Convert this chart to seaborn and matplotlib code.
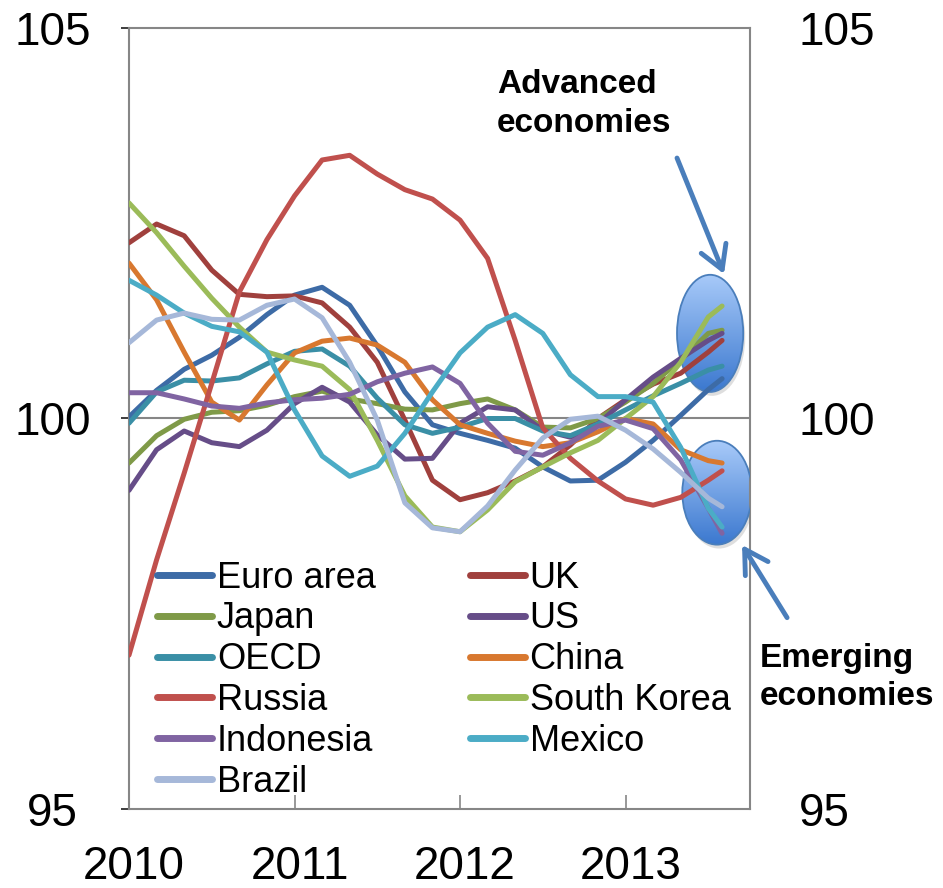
import numpy as np
import pandas as pd
import matplotlib
matplotlib.use("Agg")
import matplotlib.pyplot as plt
import seaborn as sns
from matplotlib.patches import Ellipse
from matplotlib.colors import LinearSegmentedColormap
import matplotlib.transforms as mtransforms

# ---------------- data ----------------
months = [0, 2, 4, 6, 8, 10, 12, 14, 16, 18, 20, 22, 24, 26, 28, 30, 32, 34, 36, 38, 40, 42, 43]  # months since Jan 2010

euro_area = [100.02, 100.36, 100.63, 100.81, 101.04, 101.33, 101.58, 101.68, 101.45, 100.93, 100.34, 99.92,
             99.81, 99.72, 99.62, 99.38, 99.20, 99.21, 99.44, 99.72, 100.04, 100.37, 100.51]
uk = [102.25, 102.49, 102.34, 101.90, 101.59, 101.56, 101.57, 101.48, 101.17, 100.72, 99.98, 99.21,
      98.96, 99.05, 99.20, 99.38, 99.66, 100.00, 100.24, 100.44, 100.58, 100.85, 101.00]
japan = [99.43, 99.78, 99.99, 100.08, 100.10, 100.17, 100.28, 100.35, 100.25, 100.19, 100.12, 100.11,
         100.19, 100.25, 100.11, 99.89, 99.88, 100.00, 100.21, 100.45, 100.75, 101.09, 101.13]
us = [99.08, 99.60, 99.84, 99.69, 99.64, 99.85, 100.19, 100.40, 100.21, 99.79, 99.48, 99.49,
      99.94, 100.15, 100.11, 99.85, 99.76, 99.93, 100.24, 100.53, 100.77, 101.00, 101.09]
oecd = [99.94, 100.34, 100.49, 100.48, 100.52, 100.70, 100.86, 100.89, 100.67, 100.26, 99.92, 99.81,
        99.89, 100.00, 100.00, 99.84, 99.78, 99.93, 100.11, 100.29, 100.45, 100.62, 100.67]
china = [101.99, 101.52, 100.85, 100.21, 99.98, 100.43, 100.84, 100.99, 101.03, 100.94, 100.72, 100.24,
         99.92, 99.81, 99.71, 99.64, 99.69, 99.83, 100.00, 99.93, 99.60, 99.46, 99.43]
russia = [96.97, 98.19, 99.30, 100.45, 101.62, 102.29, 102.85, 103.31, 103.37, 103.13, 102.93, 102.81,
          102.54, 102.05, 101.00, 99.88, 99.49, 99.20, 98.97, 98.89, 98.99, 99.21, 99.33]
south_korea = [102.76, 102.38, 101.95, 101.54, 101.17, 100.85, 100.75, 100.67, 100.37, 99.72, 99.01, 98.61,
               98.55, 98.83, 99.19, 99.38, 99.56, 99.72, 100.00, 100.28, 100.72, 101.30, 101.44]
indonesia = [100.33, 100.33, 100.25, 100.16, 100.13, 100.20, 100.24, 100.26, 100.31, 100.47, 100.58, 100.66,
             100.45, 99.94, 99.58, 99.53, 99.69, 99.90, 99.98, 99.87, 99.47, 98.85, 98.53]
mexico = [101.77, 101.58, 101.35, 101.18, 101.11, 100.85, 100.11, 99.52, 99.26, 99.39, 99.81, 100.34,
          100.84, 101.17, 101.33, 101.09, 100.56, 100.28, 100.28, 100.21, 99.63, 98.85, 98.61]
brazil = [100.97, 101.26, 101.35, 101.27, 101.26, 101.45, 101.53, 101.29, 100.72, 99.98, 98.92, 98.60,
          98.55, 98.88, 99.34, 99.75, 99.99, 100.03, 99.85, 99.61, 99.31, 98.98, 98.87]

series_names = ["Euro area", "UK", "Japan", "US", "OECD", "China", "Russia",
                "South Korea", "Indonesia", "Mexico", "Brazil"]
series_values = [euro_area, uk, japan, us, oecd, china, russia, south_korea, indonesia, mexico, brazil]
legend_order = ["Euro area", "Japan", "OECD", "Russia", "Indonesia", "Brazil",
                "UK", "US", "China", "South Korea", "Mexico"]
year_ticks = [2010, 2011, 2012, 2013]
y_ticks = [95, 100, 105]

colors = {
    "Euro area": "#3d6ba6", "UK": "#a0403d", "Japan": "#7f9a48", "US": "#664d88",
    "OECD": "#3a8fa6", "China": "#d8782f", "Russia": "#c0504d", "South Korea": "#9bbb59",
    "Indonesia": "#8064a2", "Mexico": "#4bacc6", "Brazil": "#a6b8d9",
}

# ---------------- build long table ----------------
xvals = 2010 + np.array(months) / 12.0
frames = []
for name, vals in zip(series_names, series_values):
    frames.append(pd.DataFrame({"time": xvals, "value": vals, "country": name}))
df = pd.concat(frames, ignore_index=True)

# ---------------- figure ----------------
sns.set_theme(style="white")
plt.rcParams["font.family"] = ["Liberation Sans", "DejaVu Sans"]
plt.rcParams["text.color"] = "black"
plt.rcParams["xtick.labelcolor"] = "black"
plt.rcParams["ytick.labelcolor"] = "black"

W, H = 943, 888
fig = plt.figure(figsize=(W / 100, H / 100), dpi=100)
ax = fig.add_axes([129 / W, 1 - 809 / H, 621 / W, 781 / H])

grey = "#868686"
ax.axhline(100, color=grey, lw=1.5, zorder=1)

sns.lineplot(data=df, x="time", y="value", hue="country", hue_order=series_names,
             palette=colors, linewidth=3.6, sort=False, ax=ax, zorder=4,
             solid_capstyle="round", solid_joinstyle="round")

# gradient ellipses
cmap = LinearSegmentedColormap.from_list("g", ["#a8caf9", "#3b78cf"])
grad = np.linspace(0, 1, 256).reshape(-1, 1)


def grad_ellipse(cx, cy, w, h):
    sh = Ellipse((cx + 0.012, cy - 0.05), w, h, facecolor="#7f7f7f", alpha=0.25,
                 edgecolor="none", zorder=2.4)
    ax.add_patch(sh)
    e = Ellipse((cx, cy), w, h, facecolor="none", edgecolor="#4a7ebb", lw=1.3, zorder=3)
    ax.add_patch(e)
    im = ax.imshow(grad, extent=[cx - w / 2, cx + w / 2, cy - h / 2, cy + h / 2],
                   origin="upper", cmap=cmap, aspect="auto", zorder=2.5)
    im.set_clip_path(e)


grad_ellipse(2013.511, 101.09, 0.40, 1.50)
grad_ellipse(2013.553, 99.05, 0.42, 1.33)

# arrows
arrow_kw = dict(arrowstyle="->,head_length=0.55,head_width=0.32", lw=3.5,
                color="#4a7ebb", shrinkA=0, shrinkB=0)
ax.annotate("", xy=(2013.595, 101.85), xytext=(2013.311, 103.335),
            arrowprops=dict(mutation_scale=30, **arrow_kw), annotation_clip=False, zorder=5)
ax.annotate("", xy=(2013.704, 98.38), xytext=(2013.976, 97.45),
            arrowprops=dict(mutation_scale=30, **arrow_kw), annotation_clip=False, zorder=5)

ax.set_xlim(2010, 2013.752)
ax.set_ylim(95, 105)

# axes styling
for s in ax.spines.values():
    s.set_color(grey)
    s.set_linewidth(1.5)
    s.set_visible(True)

ax.set_xticks(year_ticks)
ax.set_xticklabels([str(y) for y in year_ticks])
ax.tick_params(axis="x", direction="in", length=10, width=1.2, color=grey,
               labelsize=33, pad=26, bottom=True, labelcolor="black")
offset = mtransforms.ScaledTranslation(5 / 100, 0, fig.dpi_scale_trans)
for lbl in ax.get_xticklabels():
    lbl.set_transform(lbl.get_transform() + offset)

ax.set_yticks(y_ticks)
ax.set_yticklabels([str(v) for v in y_ticks])
ax.tick_params(axis="y", left=False, right=False, labelsize=33, pad=49, labelcolor="black")
for lbl in ax.get_yticklabels():
    lbl.set_ha("center")

ax2 = ax.twinx()
ax2.set_ylim(95, 105)
ax2.set_yticks(y_ticks)
ax2.set_yticklabels([str(v) for v in y_ticks])
ax2.tick_params(axis="y", left=False, right=False, labelsize=33, pad=29, labelcolor="black")
for s in ax2.spines.values():
    s.set_visible(False)
ax2.grid(False)
ax.grid(False)

ax.set_xlabel("")
ax.set_ylabel("")

# legend
handles, labels = ax.get_legend_handles_labels()
hmap = dict(zip(labels, handles))
leg = ax.legend([hmap[n] for n in legend_order], legend_order, ncol=2, frameon=False,
                loc="upper left", bbox_to_anchor=(0.045, 0.318), borderaxespad=0, borderpad=0,
                fontsize=26, handlelength=1.52, handletextpad=0.14, columnspacing=2.6,
                labelspacing=0.16, labelcolor="black")
for line in leg.get_lines():
    line.set_linewidth(5)
    line.set_solid_capstyle("round")

# annotations
def ftext(px, py, s):
    fig.text(px / W, 1 - py / H, s, ha="left", va="baseline", fontsize=24,
             fontweight="bold", color="black")


ftext(497, 93, "Advanced")
ftext(497, 132, "economies")
ftext(760, 667, "Emerging")
ftext(760, 705, "economies")

fig.savefig("out.png", dpi=100)
